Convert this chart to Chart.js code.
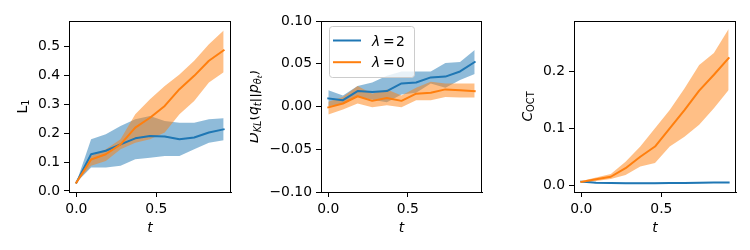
<!DOCTYPE html>
<html>
<head>
<meta charset="utf-8">
<script src="https://cdn.jsdelivr.net/npm/chart.js@4.4.0/dist/chart.umd.min.js"></script>
<style>
  body { margin: 0; background: #fff; }
  #wrap { position: relative; width: 750px; height: 250px; }
  canvas { position: absolute; top: 0; }
</style>
</head>
<body>
<div id="wrap">
  <canvas id="c1" width="250" height="250" style="left:0px"></canvas>
  <canvas id="c2" width="250" height="250" style="left:250px"></canvas>
  <canvas id="c3" width="250" height="250" style="left:500px"></canvas>
</div>
<script>
// time steps
const t = [0, 0.092, 0.184, 0.276, 0.368, 0.46, 0.552, 0.644, 0.736, 0.828, 0.92];

// L1 panel
const l1Blue   = [0.029, 0.127, 0.139, 0.161, 0.182, 0.190, 0.188, 0.179, 0.185, 0.202, 0.213];
const l1BlueHi = [0.029, 0.179, 0.196, 0.225, 0.248, 0.259, 0.242, 0.236, 0.236, 0.248, 0.251];
const l1BlueLo = [0.029, 0.081, 0.081, 0.087, 0.110, 0.115, 0.121, 0.121, 0.144, 0.167, 0.175];
const l1Orange   = [0.029, 0.109, 0.127, 0.161, 0.219, 0.253, 0.294, 0.352, 0.398, 0.450, 0.486];
const l1OrangeHi = [0.029, 0.121, 0.144, 0.179, 0.265, 0.317, 0.363, 0.403, 0.450, 0.507, 0.555];
const l1OrangeLo = [0.029, 0.087, 0.104, 0.144, 0.167, 0.179, 0.202, 0.265, 0.311, 0.375, 0.410];

// KL panel
const klBlue   = [0.0094, 0.0074, 0.018, 0.017, 0.018, 0.027, 0.028, 0.034, 0.035, 0.041, 0.052];
const klBlueHi = [0.019, 0.013, 0.024, 0.028, 0.036, 0.041, 0.041, 0.041, 0.051, 0.052, 0.066];
const klBlueLo = [0.0004, 0.003, 0.011, 0.008, 0.005, 0.014, 0.016, 0.027, 0.022, 0.031, 0.038];
const klOrange   = [-0.001, 0.0035, 0.012, 0.0066, 0.010, 0.0066, 0.015, 0.016, 0.020, 0.019, 0.018];
const klOrangeHi = [0.0055, 0.011, 0.024, 0.015, 0.020, 0.013, 0.022, 0.029, 0.027, 0.027, 0.027];
const klOrangeLo = [-0.0094, -0.0035, 0.0035, -0.001, 0.0016, -0.001, 0.0074, 0.0074, 0.011, 0.0105, 0.0105];

// C_OCT panel
const cBlue   = [0.0064, 0.0045, 0.0040, 0.0035, 0.0035, 0.0037, 0.0040, 0.0042, 0.0045, 0.0047, 0.0050];
const cBlueHi = [0.0072, 0.0053, 0.0048, 0.0043, 0.0043, 0.0045, 0.0048, 0.0050, 0.0053, 0.0055, 0.0058];
const cBlueLo = [0.0056, 0.0037, 0.0032, 0.0027, 0.0027, 0.0029, 0.0032, 0.0034, 0.0037, 0.0039, 0.0042];
const cOrange   = [0.006, 0.0105, 0.015, 0.030, 0.050, 0.068, 0.100, 0.132, 0.166, 0.194, 0.223];
const cOrangeHi = [0.0076, 0.0135, 0.020, 0.0415, 0.068, 0.100, 0.132, 0.170, 0.211, 0.232, 0.274];
const cOrangeLo = [0.004, 0.0076, 0.011, 0.018, 0.033, 0.039, 0.068, 0.085, 0.106, 0.135, 0.167];

const seriesLabels = ["λ = 2", "λ = 0"];

// ticks
const xTickVals = [0, 0.5];
const xTickLabels = ["0.0", "0.5"];
const l1TickVals = [0, 0.1, 0.2, 0.3, 0.4, 0.5];
const l1TickLabels = ["0.0", "0.1", "0.2", "0.3", "0.4", "0.5"];
const klTickVals = [-0.1, -0.05, 0, 0.05, 0.1];
const klTickLabels = ["\u22120.10", "\u22120.05", "0.00", "0.05", "0.10"];
const cTickVals = [0, 0.1, 0.2];
const cTickLabels = ["0.0", "0.1", "0.2"];

const BLUE = "#1f77b4";
const ORANGE = "#ff7f0e";
const FONT = "DejaVu Sans";

const pts = (ys) => ys.map((y, i) => ({ x: t[i], y }));

function makeDatasets(b, bHi, bLo, o, oHi, oLo) {
  const line = (data, color, label, order) => ({
    label, data: pts(data), borderColor: color, borderWidth: 2,
    pointRadius: 0, tension: 0, fill: false, order,
    borderJoinStyle: "round", borderCapStyle: "square"
  });
  const edge = (data, order, fill, bg) => ({
    data: pts(data), borderWidth: 0, pointRadius: 0, tension: 0,
    fill, backgroundColor: bg, order
  });
  return [
    line(b, BLUE, seriesLabels[0], 1),
    line(o, ORANGE, seriesLabels[1], 0),
    edge(bHi, 3, { target: 3 }, "rgba(31,119,180,0.5)"),
    edge(bLo, 4, false, "transparent"),
    edge(oHi, 2, { target: 5 }, "rgba(255,127,14,0.5)"),
    edge(oLo, 4, false, "transparent")
  ];
}

// draw text made of pieces: [text, style, level]
function richText(ctx, parts, x, y, rotate) {
  const sizes = [13.9, 9.8, 7.2];
  const shifts = [0, 2.8, 4.6];
  ctx.save();
  ctx.translate(x, y);
  if (rotate) ctx.rotate(-Math.PI / 2);
  let w = 0;
  const items = parts.map(([txt, st, lv]) => {
    ctx.font = st + " " + sizes[lv] + 'px "' + FONT + '"';
    const it = { txt, font: ctx.font, x: w, dy: shifts[lv] };
    w += ctx.measureText(txt).width;
    return it;
  });
  ctx.fillStyle = "#000";
  ctx.textAlign = "left";
  ctx.textBaseline = "alphabetic";
  items.forEach(it => { ctx.font = it.font; ctx.fillText(it.txt, it.x - w / 2, it.dy); });
  ctx.restore();
}

const decor = {
  id: "decor",
  afterDraw(chart, args, opts) {
    const { ctx, chartArea: a } = chart;
    ctx.save();
    ctx.strokeStyle = "#000";
    ctx.lineWidth = 1;
    ctx.strokeRect(a.left + 0.5, a.top + 0.5, a.right - a.left - 1, a.bottom - a.top);
    ctx.restore();
    richText(ctx, [["t", "italic", 0]], (a.left + a.right) / 2, 232, false);
    richText(ctx, opts.yTitle, opts.yTitleX, (a.top + a.bottom) / 2, true);
    if (opts.legend) {
      const L = opts.legend;
      ctx.save();
      ctx.beginPath();
      ctx.roundRect(L.x + 0.5, L.y + 0.5, L.w, L.h, 3);
      ctx.fillStyle = "rgba(255,255,255,0.8)";
      ctx.fill();
      ctx.strokeStyle = "#cccccc";
      ctx.lineWidth = 1;
      ctx.stroke();
      [0, 1].forEach(i => {
        const ds = chart.data.datasets[i];
        const yy = L.y + 14.5 + i * 21.7;
        ctx.beginPath();
        ctx.moveTo(L.x + 4, yy);
        ctx.lineTo(L.x + 32, yy);
        ctx.strokeStyle = ds.borderColor;
        ctx.lineWidth = 2;
        ctx.stroke();
        const [sym, , val] = ds.label.split(" ");
        ctx.fillStyle = "#000";
        ctx.textBaseline = "alphabetic";
        ctx.font = 'italic 13.9px "' + FONT + '"';
        ctx.fillText(sym, L.x + 43, yy + 5);
        ctx.font = '13.9px "' + FONT + '"';
        ctx.fillText("=", L.x + 54, yy + 5);
        ctx.fillText(val, L.x + 67, yy + 5);
      });
      ctx.restore();
    }
  }
};

function makeChart(id, datasets, cfg) {
  const tickFont = { family: FONT, size: 13.9 };
  return new Chart(document.getElementById(id), {
    type: "line",
    data: { datasets },
    plugins: [decor],
    options: {
      responsive: false,
      animation: false,
      events: [],
      layout: { padding: { left: 0, top: 21, right: cfg.right, bottom: 0 } },
      plugins: {
        legend: { display: false },
        tooltip: { enabled: false },
        decor: { yTitle: cfg.yTitle, yTitleX: cfg.yTitleX, legend: cfg.legend }
      },
      scales: {
        x: {
          type: "linear", min: -0.046, max: 0.966,
          afterFit: (s) => { s.height = 58; },
          afterBuildTicks: (s) => { s.ticks = xTickVals.map(v => ({ value: v })); },
          ticks: { font: tickFont, color: "#000", padding: 4, maxRotation: 0, autoSkip: false,
                   callback: (v, i) => xTickLabels[i] },
          grid: { drawOnChartArea: false, drawTicks: true, tickLength: 5, tickColor: "#000", tickWidth: 1 },
          border: { display: true, color: "#000", width: 1 }
        },
        y: {
          type: "linear", min: cfg.ymin, max: cfg.ymax,
          afterFit: (s) => { s.width = cfg.left; },
          afterBuildTicks: (s) => { s.ticks = cfg.tickVals.map(v => ({ value: v })); },
          ticks: { font: tickFont, color: "#000", padding: 4, autoSkip: false,
                   callback: (v, i) => cfg.tickLabels[i] },
          grid: { drawOnChartArea: false, drawTicks: true, tickLength: 5, tickColor: "#000", tickWidth: 1 },
          border: { display: true, color: "#000", width: 1 }
        }
      }
    }
  });
}

makeChart("c1", makeDatasets(l1Blue, l1BlueHi, l1BlueLo, l1Orange, l1OrangeHi, l1OrangeLo), {
  left: 69, right: 19, ymin: -0.0035, ymax: 0.5875,
  tickVals: l1TickVals, tickLabels: l1TickLabels,
  yTitle: [["L", "normal", 0], ["1", "normal", 1]], yTitleX: 26.5
});

makeChart("c2", makeDatasets(klBlue, klBlueHi, klBlueLo, klOrange, klOrangeHi, klOrangeLo), {
  left: 71, right: 18, ymin: -0.1, ymax: 0.1,
  tickVals: klTickVals, tickLabels: klTickLabels,
  yTitle: [["D", "italic", 0], ["KL", "italic", 1], ["(", "normal", 0], ["q", "italic", 0],
           ["t", "italic", 1], ["||", "normal", 0], ["p", "italic", 0], ["θ", "italic", 1],
           ["t", "italic", 2], [")", "normal", 0]],
  yTitleX: 7.8,
  legend: { x: 79, y: 26, w: 85, h: 51 }
});

makeChart("c3", makeDatasets(cBlue, cBlueHi, cBlueLo, cOrange, cOrangeHi, cOrangeLo), {
  left: 74, right: 14, ymin: -0.01175, ymax: 0.2882,
  tickVals: cTickVals, tickLabels: cTickLabels,
  yTitle: [["C", "italic", 0], ["OCT", "normal", 1]], yTitleX: 31.5
});
</script>
</body>
</html>
